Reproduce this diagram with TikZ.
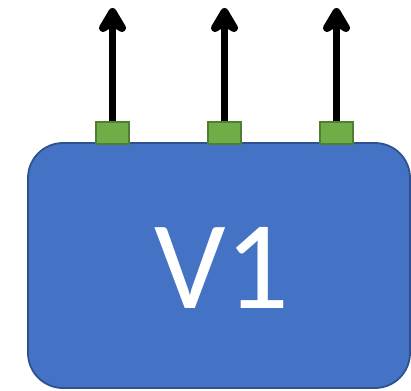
\documentclass[tikz,border=0pt]{standalone}
\usepackage{fontspec}
\setmainfont{Carlito}
\definecolor{boxblue}{HTML}{4472C4}
\definecolor{boxblueedge}{HTML}{2F528F}
\definecolor{portgreen}{HTML}{70AD47}
\definecolor{portedge}{HTML}{507E32}
\begin{document}
\begin{tikzpicture}[x=1pt,y=-1pt,
  block/.style={draw=boxblueedge, fill=boxblue, line width=1.8pt, rounded corners=35pt},
  port/.style={draw=portedge, fill=portgreen, line width=2.2pt, minimum width=33pt, minimum height=22pt, inner sep=0pt, anchor=center},
  shaft/.style={line width=7.5pt},
  barb/.style={line width=8pt, line cap=round, line join=round, fill=black}]
  \useasboundingbox (0,0) rectangle (411,390);
  \draw[block] (28,143) rectangle (410,388);
  \node[text=white, font=\fontsize{126}{126}\selectfont] (v1) at (222,268) {V1};
  \foreach \i/\x in {1/112.5, 2/224.5, 3/336.5} {
    \node[port] (p\i) at (\x,133) {};
    \coordinate (t\i) at (\x,12);
    \draw[shaft] (p\i.north) -- (t\i);
    \filldraw[barb] (t\i) -- ++(-9.5,16) -- ++(9.5,-6) -- ++(9.5,6) -- cycle;
  }
\end{tikzpicture}
\end{document}
